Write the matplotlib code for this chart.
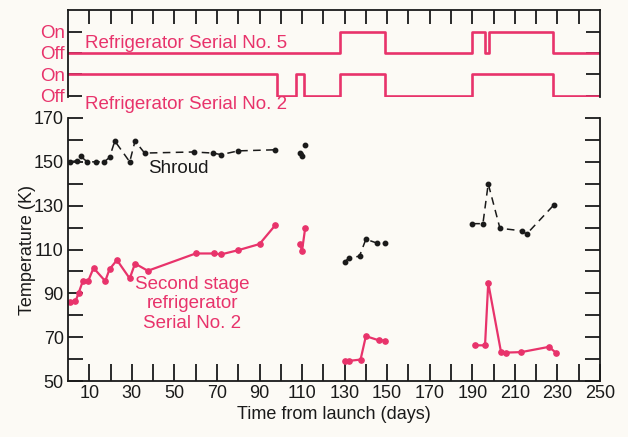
import numpy as np
import matplotlib
matplotlib.use('Agg')
import matplotlib.pyplot as plt

plt.rcParams['font.family'] = ['Liberation Sans', 'DejaVu Sans']

pink = '#e8336b'
ink = '#1a1a1a'
paper = '#fcfaf5'

# on/off history of the two refrigerators (days where state changes)
ref5_days = [0, 128, 149, 190, 196, 198, 228, 250]
ref5_on = [0, 1, 0, 1, 0, 1, 0, 0]
ref2_days = [0, 98, 107, 111, 128, 149, 190, 228, 250]
ref2_on = [1, 0, 1, 0, 1, 0, 1, 0, 0]

# shroud temperature (K), nan = gap
shroud_days = [1, 4, 6, 9, 13, 17, 19.5, 22, 29, 31.5, 36, 59, 68, 72, 80, 97.5, np.nan,
               109, 110, 111.5, np.nan,
               130, 132, 137, 140, 145, 149, np.nan,
               190, 195, 197.5, 203, 213.5, 215.5, 228.5]
shroud_temp = [150, 150.5, 152.5, 150, 150, 150, 152, 159.5, 150, 159.5, 154, 154.5, 154, 153.3, 155, 155.5, np.nan,
               154, 152.5, 157.5, np.nan,
               104.5, 106, 107, 114.7, 113, 112.8, np.nan,
               121.8, 121.8, 140, 119.7, 118.5, 117, 130.5]

# second stage refrigerator No. 2 temperature (K)
stage_days = [1, 3.5, 5, 7, 9.5, 12, 17.5, 19.5, 23, 29, 31.5, 37.5, 60, 68.5, 72, 80, 90, 97.5, np.nan,
              109, 110, 111.5, np.nan,
              130, 132, 137.5, 140, 146, 149, np.nan,
              191.5, 196, 197.5, 203.5, 206, 213, 226, 229.5]
stage_temp = [86, 86.3, 90.2, 95.7, 95.7, 101.6, 95.6, 101, 105.2, 96.8, 103.6, 100.3, 108.2, 108.2, 107.8, 109.7, 112.5, 121.2, np.nan,
              112.3, 109.5, 120, np.nan,
              59, 59.2, 59.8, 70.5, 68.6, 68.5, np.nan,
              66.3, 66.3, 94.8, 63.3, 63, 63.2, 65.6, 62.8]

fig = plt.figure(figsize=(6.28, 4.37), dpi=100, facecolor=paper)

# ---- top panel: on/off states
top = fig.add_axes([0.1083, 0.778, 0.847, 0.199], facecolor=paper)
top.step(ref5_days, np.array(ref5_on) + 2, where='post', color=pink, lw=1.9)
top.step(ref2_days, np.array(ref2_on), where='post', color=pink, lw=1.9)
top.set_xlim(0, 250)
top.set_ylim(-0.05, 4)
top.spines['bottom'].set_visible(False)
for s in ['top', 'left', 'right']:
    top.spines[s].set_linewidth(1.3)
    top.spines[s].set_color(ink)
top.set_xticks(np.arange(10, 250, 10))
top.set_yticks([0, 1, 2, 3])
top.set_yticklabels(['Off', 'On', 'Off', 'On'], color=pink, fontsize=13.5)
top.tick_params(axis='x', direction='in', top=True, bottom=False, labeltop=False,
                labelbottom=False, length=10, width=1.3, color=ink)
top.tick_params(axis='y', direction='in', left=True, right=True, length=10,
                width=1.3, color=ink, pad=2)
top.text(8, 2.45, 'Refrigerator Serial No. 5', color=pink, fontsize=13.5, va='center')
top.text(8, -0.42, 'Refrigerator Serial No. 2', color=pink, fontsize=13.5, va='center')

# ---- main panel: temperatures
ax = fig.add_axes([0.1083, 0.128, 0.847, 0.602], facecolor=paper)
ax.plot(shroud_days, shroud_temp, color=ink, lw=1.1, ls=(0, (5, 3.5)),
        marker='o', ms=3.2)
ax.plot(stage_days, stage_temp, color=pink, lw=1.6, marker='o', ms=3.8)
ax.set_xlim(0, 250)
ax.set_ylim(50, 170)
ax.spines['top'].set_visible(False)
for s in ['bottom', 'left', 'right']:
    ax.spines[s].set_linewidth(1.3)
    ax.spines[s].set_color(ink)
ax.set_xticks(np.arange(10, 251, 20))
ax.set_xticks(np.arange(20, 250, 20), minor=True)
ax.set_yticks(np.arange(50, 171, 20))
ax.set_yticks(np.arange(60, 170, 20), minor=True)
ax.tick_params(which='both', direction='in', left=True, right=True, length=11,
               width=1.3, color=ink, labelsize=13, labelcolor=ink)
ax.tick_params(axis='x', which='both', length=12, pad=3)
ax.tick_params(axis='y', which='both', pad=3)
ax.set_xlabel('Time from launch (days)', fontsize=13, color=ink, labelpad=3)
ax.set_ylabel('Temperature (K)', fontsize=13, color=ink, labelpad=-2)

ax.text(52, 147, 'Shroud', color=ink, fontsize=13.5, ha='center', va='center')
ax.text(58.5, 85.3, 'Second stage\nrefrigerator\nSerial No. 2', color=pink,
        fontsize=13.5, ha='center', va='center', linespacing=1.2)

fig.savefig('out.png', dpi=100, facecolor=paper)
